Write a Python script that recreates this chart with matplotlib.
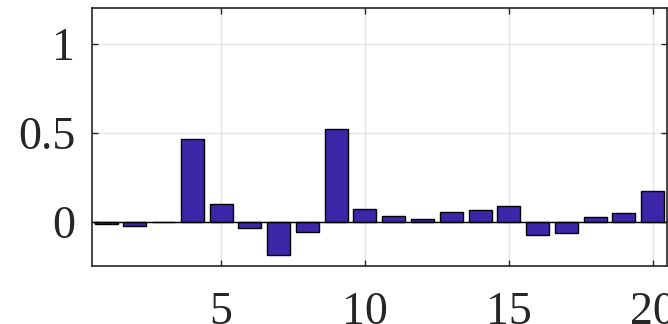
import matplotlib
matplotlib.use("Agg")
import matplotlib.pyplot as plt
import numpy as np

# Data
idx = list(range(1, 21))
values = [-0.013, -0.021, 0.0, 0.464, 0.103, -0.036, -0.185, -0.056, 0.522, 0.073,
          0.034, 0.019, 0.058, 0.065, 0.088, -0.075, -0.062, 0.028, 0.048, 0.174]
xticks = [5, 10, 15, 20]
yticks = [0, 0.5, 1]
ytick_labels = ["0", "0.5", "1"]

plt.rcParams['font.family'] = ['Liberation Serif', 'DejaVu Serif']

fig = plt.figure(figsize=(6.68, 3.24), dpi=100)
ax = fig.add_axes([0.1373, 0.1775, 0.8612, 0.7969])

axis_col = '#262626'
ax.set_axisbelow(True)
ax.grid(True, color='#e3e3e3', linewidth=1.0)
ax.bar(idx, values, width=0.8, color='#3E26A8', edgecolor='black', linewidth=1.0, zorder=2)
ax.axhline(0, color='black', linewidth=1.0, zorder=3)

ax.set_xlim(0.5, 20.5)
ax.set_ylim(-0.25, 1.2)
ax.set_xticks(xticks)
ax.set_xticklabels([str(t) for t in xticks])
ax.set_yticks(yticks)
ax.set_yticklabels(ytick_labels)

for s in ax.spines.values():
    s.set_color(axis_col)
    s.set_linewidth(1.2)

ax.tick_params(axis='both', direction='in', length=4.5, width=1.0, color=axis_col,
               labelsize=33, labelcolor=axis_col, top=True, right=True)
ax.tick_params(axis='x', pad=18)
ax.tick_params(axis='y', pad=12)

fig.savefig('out.png', dpi=100)
